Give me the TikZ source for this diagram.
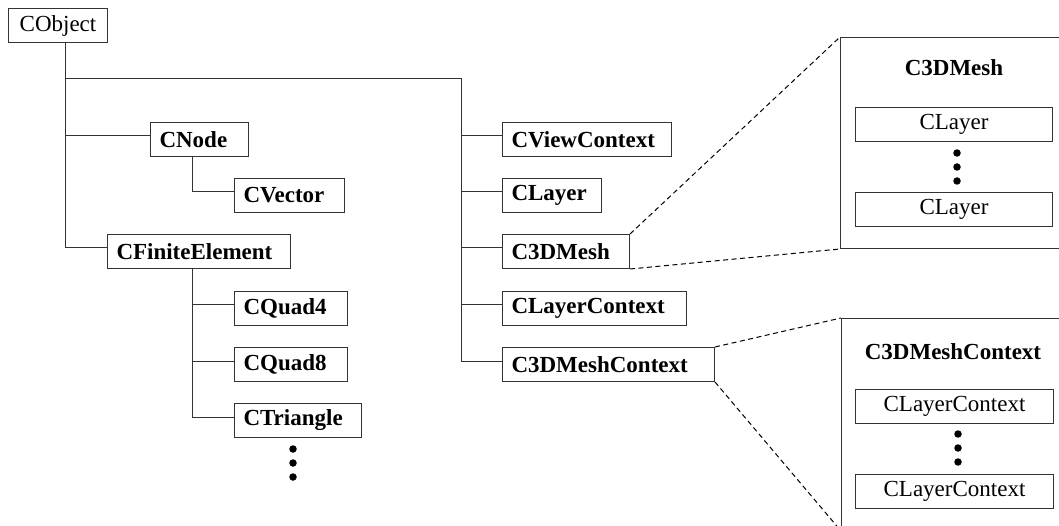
\documentclass[tikz,border=0pt]{standalone}
\usepackage{fontspec}
\setmainfont{Liberation Serif}
\begin{document}
\begin{tikzpicture}[x=1pt,y=-1pt,
  ln/.style={draw=black!80, line width=1pt},
  tbox/.style={ln, anchor=north west, font=\fontsize{23}{26}\selectfont\bfseries,
    inner xsep=9pt, inner ysep=0pt, minimum height=34pt, align=left},
  ibox/.style={ln, anchor=north west, font=\fontsize{23}{26}\selectfont,
    inner xsep=0pt, inner ysep=0pt, minimum height=34pt, align=center},
  title/.style={font=\fontsize{23}{26}\selectfont\bfseries, inner sep=0pt},
  panel/.style={ln, anchor=north west, inner sep=0pt},
  dot/.style={circle, fill=black, inner sep=0pt, minimum size=7.5pt},
  dline/.style={draw=black, line width=1pt, dash pattern=on 5pt off 3.5pt}]
\useasboundingbox (0,0) rectangle (1059,526);
\clip (0,0) rectangle (1059,526);

% left tree
\node[ibox, text width=99pt] (cobject) at (8,8) {CObject};
\node[tbox, text width=80pt] (cnode) at (150,122) {CNode};
\node[tbox, text width=92pt] (cvector) at (234,178) {CVector};
\node[tbox, text width=165pt] (cfe) at (107,234) {CFiniteElement};
\node[tbox, text width=95pt] (cquad4) at (234,291) {CQuad4};
\node[tbox, text width=95pt] (cquad8) at (234,347) {CQuad8};
\node[tbox, text width=109pt] (ctri) at (234,403) {CTriangle};
\node[dot] (ld1) at (293,449) {};
\node[dot] (ld2) at (293,463) {};
\node[dot] (ld3) at (293,477) {};

% right column
\node[tbox, text width=151pt] (cview) at (502,122) {CViewContext};
\node[tbox, text width=81pt] (clayer) at (502,178) {CLayer};
\node[tbox, text width=109pt] (c3dm) at (502,234) {C3DMesh};
\node[tbox, text width=166pt] (clc) at (502,291) {CLayerContext};
\node[tbox, text width=194pt] (c3dmc) at (502,347) {C3DMeshContext};

% connectors
\coordinate (lt) at (65,79);
\coordinate (rt) at (461,79);
\coordinate (st) at (192,0);
\draw[ln] ([xshift=7.5pt]cobject.south) |- ([yshift=4pt]cfe.west);
\draw[ln] (lt) -- (rt) |- ([yshift=3.5pt]c3dmc.west);
\draw[ln] (lt |- cnode.west) ++(0,-3.5) -- ([yshift=3.5pt]cnode.west);
\draw[ln] (st |- cnode.south) |- ([yshift=3.5pt]cvector.west);
\draw[ln] (st |- cfe.south) |- ([yshift=3.5pt]ctri.west);
\draw[ln] (st |- cquad4.west) ++(0,-3.5) -- ([yshift=3.5pt]cquad4.west);
\draw[ln] (st |- cquad8.west) ++(0,-3.5) -- ([yshift=3.5pt]cquad8.west);
\draw[ln] (rt |- cview.west) ++(0,-3.5) -- ([yshift=3.5pt]cview.west);
\draw[ln] (rt |- clayer.west) ++(0,-3.5) -- ([yshift=3.5pt]clayer.west);
\draw[ln] (rt |- c3dm.west) ++(0,-3.5) -- ([yshift=3.5pt]c3dm.west);
\draw[ln] (rt |- clc.west) ++(0,-3.5) -- ([yshift=3.5pt]clc.west);

% detail panel 1
\node[panel, minimum width=260pt, minimum height=211pt] (p1) at (840,37) {};
\node[title] (p1t) at (954,68) {C3DMesh};
\node[ibox, text width=197pt] (p1a) at (855,107) {CLayer};
\node[dot] (p1d1) at (957,153) {};
\node[dot] (p1d2) at (957,167) {};
\node[dot] (p1d3) at (957,181) {};
\node[ibox, text width=197pt] (p1b) at (855,192) {CLayer};

% detail panel 2
\node[panel, minimum width=260pt, minimum height=212pt] (p2) at (841,318) {};
\node[title] (p2t) at (953,352) {C3DMeshContext};
\node[ibox, text width=198pt] (p2a) at (855,389) {CLayerContext};
\node[dot] (p2d1) at (958,434) {};
\node[dot] (p2d2) at (958,448) {};
\node[dot] (p2d3) at (958,462) {};
\node[ibox, text width=198pt] (p2b) at (855,474) {CLayerContext};

% zoom lines
\draw[dline] (c3dm.north east) -- (p1.north west);
\draw[dline] (c3dm.south east) -- (p1.south west);
\draw[dline] (c3dmc.north east) -- (p2.north west);
\draw[dline] (c3dmc.south east) -- (p2.south west);
\end{tikzpicture}
\end{document}
